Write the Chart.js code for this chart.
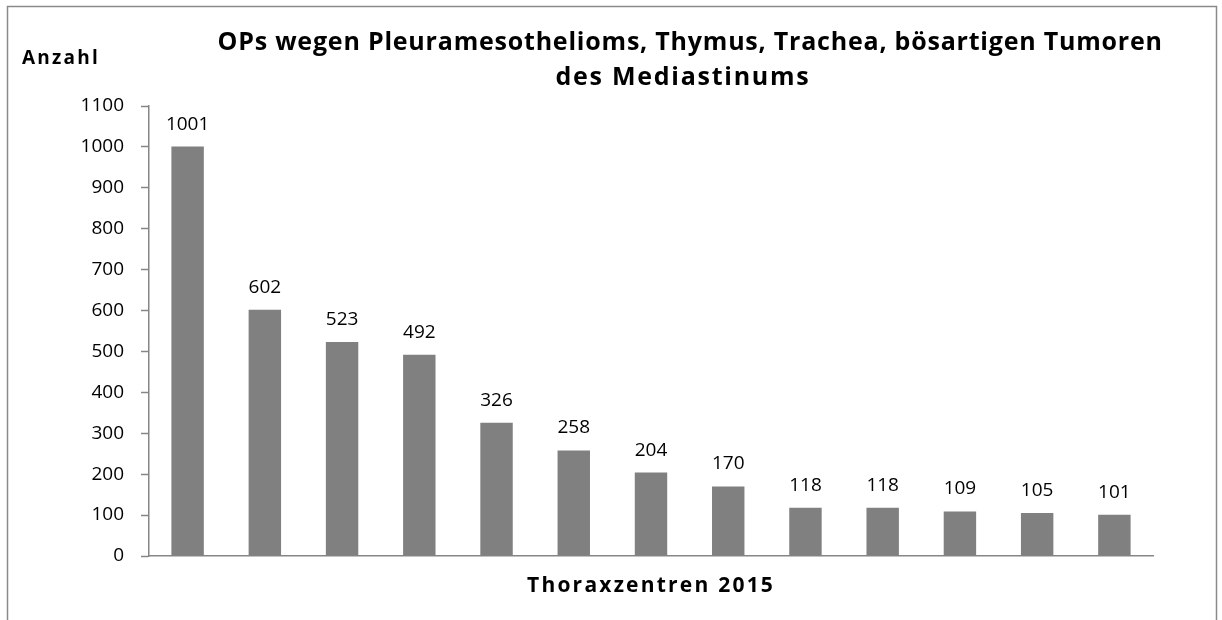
<!DOCTYPE html>
<html>
<head>
<meta charset="utf-8">
<script src="https://cdn.jsdelivr.net/npm/chart.js@4/dist/chart.umd.min.js"></script>
<style>
  html, body { margin: 0; padding: 0; background: #ffffff; }
  #wrap { width: 1222px; height: 620px; position: relative; }
  canvas { display: block; }
</style>
</head>
<body>
<div id="wrap"><canvas id="c" width="1222" height="620"></canvas></div>
<script>
// ---- data ----
const categories = ['Zentrum 1','Zentrum 2','Zentrum 3','Zentrum 4','Zentrum 5','Zentrum 6','Zentrum 7','Zentrum 8','Zentrum 9','Zentrum 10','Zentrum 11','Zentrum 12','Zentrum 13'];
const values = [1001, 602, 523, 492, 326, 258, 204, 170, 118, 118, 109, 105, 101];
const yTickValues = [0, 100, 200, 300, 400, 500, 600, 700, 800, 900, 1000, 1100];
const titleLines = ['OPs wegen Pleuramesothelioms, Thymus, Trachea, bösartigen Tumoren', 'des Mediastinums'];
const yAxisTitle = 'Anzahl';
const xAxisTitle = 'Thoraxzentren 2015';

const FONT = '"Open Sans", "Liberation Sans", Arial, sans-serif';
Chart.defaults.font.family = FONT;
Chart.defaults.color = '#000000';

// draw text fitted (via letter spacing) to a target width, like the reference rendering
function drawSpaced(ctx, text, x, y, targetWidth, align) {
  ctx.letterSpacing = '0px';
  const w = ctx.measureText(text).width;
  const ls = Math.max(-1, (targetWidth - w) / text.length);
  ctx.letterSpacing = ls.toFixed(2) + 'px';
  ctx.textAlign = 'left';
  let startX = x;
  if (align === 'center') startX = x - targetWidth / 2;
  ctx.fillText(text, startX, y);
}

const decorPlugin = {
  id: 'decor',
  beforeDraw(chart) {
    const ctx = chart.ctx;
    ctx.save();
    ctx.fillStyle = '#ffffff';
    ctx.fillRect(0, 0, chart.width, chart.height);
    ctx.strokeStyle = '#8a8a8a';
    ctx.lineWidth = 1.5;
    ctx.beginPath();
    ctx.moveTo(7.5, 640);
    ctx.lineTo(7.5, 6.5);
    ctx.lineTo(1216.5, 6.5);
    ctx.lineTo(1216.5, 640);
    ctx.stroke();
    ctx.restore();
  },
  afterDraw(chart) {
    const ctx = chart.ctx;
    const area = chart.chartArea;
    ctx.save();
    ctx.fillStyle = '#000000';
    ctx.textBaseline = 'alphabetic';
    // title
    ctx.font = 'bold 25px ' + FONT;
    drawSpaced(ctx, titleLines[0], 690, 50, 945, 'center');
    drawSpaced(ctx, titleLines[1], 683, 85, 255, 'center');
    // y axis title
    ctx.font = 'bold 19px ' + FONT;
    drawSpaced(ctx, yAxisTitle, 22, 64, 78, 'left');
    // x axis title
    ctx.font = 'bold 21px ' + FONT;
    drawSpaced(ctx, xAxisTitle, (area.left + area.right) / 2, 592, 248, 'center');
    ctx.restore();
  }
};

const valueLabels = {
  id: 'valueLabels',
  afterDatasetsDraw(chart) {
    const ctx = chart.ctx;
    const meta = chart.getDatasetMeta(0);
    ctx.save();
    ctx.font = '19px ' + FONT;
    ctx.fillStyle = '#000000';
    ctx.textAlign = 'center';
    ctx.textBaseline = 'alphabetic';
    meta.data.forEach((bar, i) => {
      ctx.fillText(String(values[i]), bar.x, bar.y - 17);
    });
    ctx.restore();
  }
};

new Chart(document.getElementById('c'), {
  type: 'bar',
  data: {
    labels: categories,
    datasets: [{
      data: values,
      backgroundColor: '#808080',
      borderWidth: 0,
      categoryPercentage: 1.0,
      barPercentage: 0.42
    }]
  },
  options: {
    responsive: false,
    animation: false,
    layout: { padding: { top: 106, right: 69, bottom: 0, left: 0 } },
    plugins: {
      legend: { display: false },
      title: { display: false },
      tooltip: { enabled: false }
    },
    scales: {
      x: {
        grid: { display: false },
        border: { display: true, color: '#868686', width: 1.5 },
        ticks: { display: false },
        afterFit(scale) { scale.height = 64; }
      },
      y: {
        min: 0,
        max: 1100,
        afterBuildTicks(scale) { scale.ticks = yTickValues.map(v => ({ value: v })); },
        grid: { drawOnChartArea: false, drawTicks: true, tickLength: 8, tickColor: '#868686', tickWidth: 1.5 },
        border: { display: true, color: '#868686', width: 1.5 },
        ticks: { color: '#000000', font: { size: 19 }, padding: 17, callback: (v) => String(v) },
        afterFit(scale) { scale.width = 149; }
      }
    }
  },
  plugins: [decorPlugin, valueLabels]
});
</script>
</body>
</html>
